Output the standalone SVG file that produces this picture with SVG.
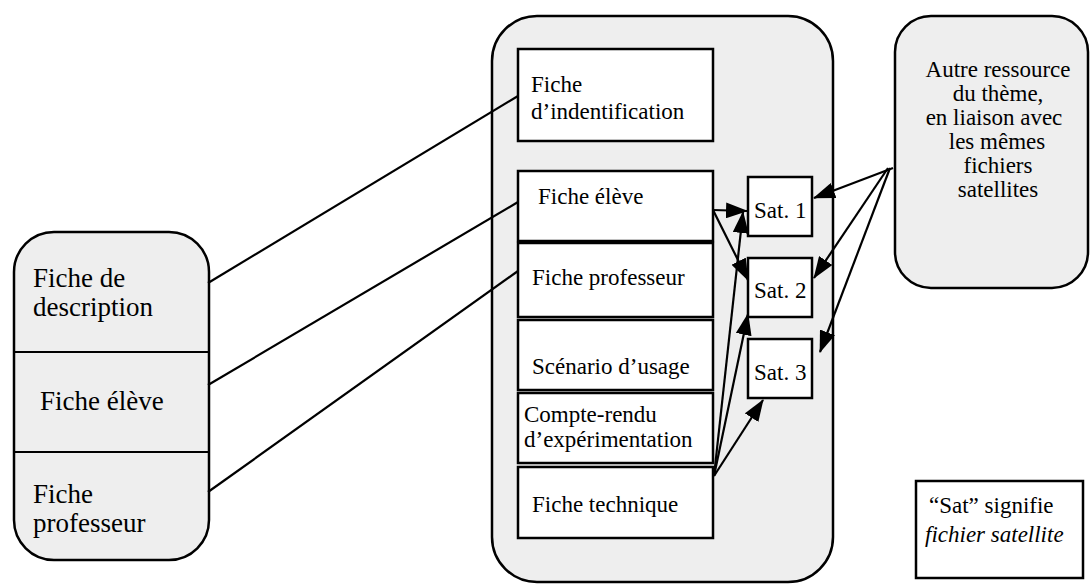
<svg xmlns="http://www.w3.org/2000/svg" width="1092" height="586" viewBox="0 0 1092 586">
<style>
.grp{fill:#eeeeee;stroke:#000;stroke-width:2.5}
.box{fill:#fff;stroke:#000;stroke-width:2.5}
.t{font-family:'Liberation Serif','Tinos','DejaVu Serif',serif;font-size:23px;fill:#000}
.tl{font-family:'Liberation Serif','Tinos','DejaVu Serif',serif;font-size:27px;fill:#000}
.ln{stroke:#000;stroke-width:2.2;fill:none}
.ar{stroke:#000;stroke-width:2.2;fill:none;marker-end:url(#ah)}
</style>
<defs>
<marker id="ah" viewBox="0 0 22 16" refX="21" refY="8" markerWidth="22" markerHeight="16" markerUnits="userSpaceOnUse" orient="auto">
<path d="M0,0 L22,8 L0,16 z" fill="#000"/>
</marker>
</defs>
<rect width="1092" height="586" fill="#fff"/>

<g id="container">
<rect class="grp" x="492" y="16" width="341" height="566" rx="45" ry="45"/>
</g>

<g id="fiche-identification">
<rect class="box" x="518" y="49" width="195" height="92"/>
<text class="t" x="531" y="92">Fiche</text>
<text class="t" x="531" y="119">d’indentification</text>
</g>
<g id="fiche-eleve">
<rect class="box" x="518" y="171" width="195" height="70"/>
<text class="t" x="538" y="204">Fiche élève</text>
</g>
<g id="fiche-professeur">
<rect class="box" x="518" y="243" width="195" height="74"/>
<text class="t" x="532" y="285">Fiche professeur</text>
</g>
<g id="scenario">
<rect class="box" x="518" y="320" width="195" height="70"/>
<text class="t" x="532" y="374">Scénario d’usage</text>
</g>
<g id="compte-rendu">
<rect class="box" x="518" y="393" width="195" height="70"/>
<text class="t" x="524" y="422">Compte-rendu</text>
<text class="t" x="524" y="447">d’expérimentation</text>
</g>
<g id="fiche-technique">
<rect class="box" x="518" y="467" width="195" height="71"/>
<text class="t" x="532" y="512">Fiche technique</text>
</g>

<g id="sat1">
<rect class="box" x="748" y="177" width="64" height="59"/>
<text class="t" x="754" y="218">Sat. 1</text>
</g>
<g id="sat2">
<rect class="box" x="748" y="258" width="64" height="59"/>
<text class="t" x="754" y="298">Sat. 2</text>
</g>
<g id="sat3">
<rect class="box" x="748" y="339" width="64" height="59"/>
<text class="t" x="754" y="380">Sat. 3</text>
</g>

<g id="autre-ressource">
<rect class="grp" x="895" y="16" width="193" height="272" rx="36" ry="36"/>
<text class="t" x="998" y="77" text-anchor="middle">Autre ressource</text>
<text class="t" x="998" y="101" text-anchor="middle">du thème,</text>
<text class="t" x="994" y="125" text-anchor="middle">en liaison avec</text>
<text class="t" x="997" y="149" text-anchor="middle">les mêmes</text>
<text class="t" x="998" y="173" text-anchor="middle">fichiers</text>
<text class="t" x="998" y="197" text-anchor="middle">satellites</text>
</g>

<g id="left-resource">
<rect class="grp" x="14" y="232" width="195" height="328" rx="40" ry="40"/>
<line class="ln" x1="13" y1="352" x2="210" y2="352"/>
<line class="ln" x1="13" y1="452" x2="210" y2="452"/>
<text class="tl" x="33" y="287">Fiche de</text>
<text class="tl" x="33" y="316">description</text>
<text class="tl" x="40" y="410">Fiche élève</text>
<text class="tl" x="33" y="503">Fiche</text>
<text class="tl" x="33" y="532">professeur</text>
</g>

<g id="legend">
<rect x="916" y="481" width="167" height="97" fill="#fff" stroke="#000" stroke-width="2.5"/>
<text class="t" x="929" y="513" font-size="22.5">“Sat” signifie</text>
<text class="t" x="925" y="542" font-size="22.5" font-style="italic">fichier satellite</text>
</g>

<g id="connectors">
<line class="ln" x1="208" y1="283" x2="518" y2="96"/>
<line class="ln" x1="208" y1="385" x2="518" y2="202"/>
<line class="ln" x1="208" y1="492" x2="518" y2="271"/>
<line class="ar" x1="713" y1="210" x2="747" y2="211"/>
<line class="ar" x1="713" y1="210" x2="748" y2="280"/>
<line class="ar" x1="714" y1="476" x2="743" y2="212"/>
<line class="ar" x1="714" y1="476" x2="748" y2="314"/>
<line class="ar" x1="714" y1="476" x2="763" y2="400"/>
<line class="ar" x1="893" y1="168" x2="814" y2="198"/>
<line class="ar" x1="888" y1="168" x2="814" y2="278"/>
<line class="ar" x1="890" y1="168" x2="820" y2="352"/>
</g>
</svg>
